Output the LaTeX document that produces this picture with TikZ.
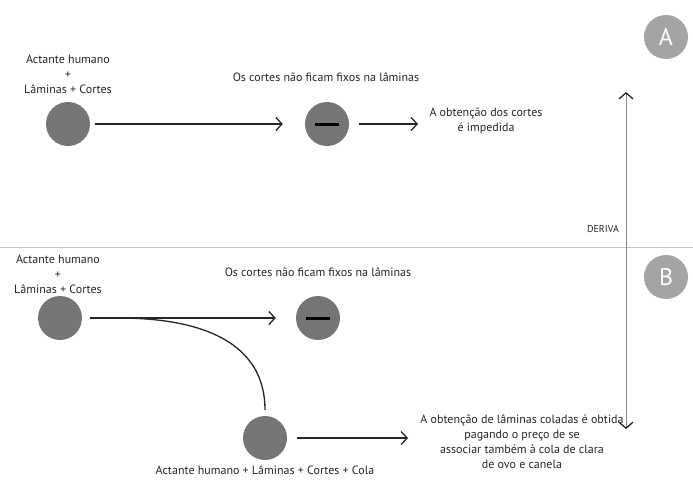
\documentclass[tikz,border=0pt]{standalone}
\usepackage{fontspec}
\setmainfont{PT Sans}
\usepackage{tikz}
\usetikzlibrary{arrows.meta}

\definecolor{dotgray}{HTML}{757575}
\definecolor{taggray}{HTML}{A4A4A4}
\definecolor{inkgray}{HTML}{262626}
\definecolor{rulegray}{HTML}{C8C8C8}
\definecolor{driftgray}{HTML}{8A8A8A}

\tikzset{
  dot/.style={circle,fill=dotgray,minimum size=44pt,inner sep=0pt},
  tag/.style={circle,fill=taggray,minimum size=44pt,inner sep=0pt,text=white,font=\fontsize{24}{24}\selectfont},
  txt/.style={align=center,font=\fontsize{12}{15}\selectfont,text=inkgray,inner sep=1pt},
  flow/.style={-{Straight Barb[length=6pt,width=13pt,line width=1.3pt]},line width=1.3pt,draw=inkgray},
}

\begin{document}
\begin{tikzpicture}[x=1pt,y=-1pt]
      \useasboundingbox (0,0) rectangle (693,480);
      % dividers
      \draw [rulegray,line width=0.9pt] (0,247) -- (693,247);
      \coordinate (dtop) at (626,92);
      \coordinate (dbot) at (626,429);
      \draw [driftgray,line width=0.8pt,{Straight Barb[length=6pt,width=14pt,line width=1.3pt,color=inkgray]}-{Straight Barb[length=6pt,width=14pt,line width=1.3pt,color=inkgray]}] (dtop) -- (dbot);
      \node [txt,font=\fontsize{10}{12}\selectfont] (deriva) at (603,229) {DERIVA};
      \node [tag] (tagA) at (666,37) {A};
      \node [tag] (tagB) at (666,277) {B};
      % A
      \node [dot] (h1) at (68,124) {};
      \node [txt,anchor=south] (h1lbl) at (68,95) {Actante humano\\+\\Lâminas + Cortes};
      \node [dot] (m1) at (327,124) {\rule{24pt}{3pt}};
      \node [txt] (m1lbl) at (326,77) {Os cortes não ficam fixos na lâminas};
      \node [txt] (r1) at (486,121) {A obtenção dos cortes\\é impedida};
      \coordinate (r1in) at (418,124);
      \draw [flow,shorten <=5pt,shorten >=22pt] (h1) -- (m1);
      \draw [flow,shorten <=10pt] (m1.east) -- (r1in);
      % B
      \node [dot] (h2) at (60,318) {};
      \node [txt,anchor=south] (h2lbl) at (58,295) {Actante humano\\+\\Lâminas + Cortes};
      \node [dot] (m2) at (318,318) {\rule{24pt}{3pt}};
      \node [txt] (m2lbl) at (318,272) {Os cortes não ficam fixos na lâminas};
      \node [dot] (h3) at (265,438) {};
      \node [txt,anchor=north] (h3lbl) at (265,465) {Actante humano + Lâminas + Cortes + Cola};
      \node [txt,anchor=north] (r2) at (522,414) {A obtenção de lâminas coladas é obtida\\pagando o preço de se\\associar também à cola de clara\\de ovo e canela};
      \coordinate (r2in) at (408,438);
      \coordinate (split) at (118,318);
      \draw [flow,shorten <=8pt,shorten >=20pt] (h2) -- (m2);
      \draw [inkgray,line width=1.3pt,shorten >=6pt] (split) .. controls (215,318) and (265,350) .. (h3.north);
      \draw [flow,shorten <=10pt] (h3.east) -- (r2in);
\end{tikzpicture}
\end{document}
